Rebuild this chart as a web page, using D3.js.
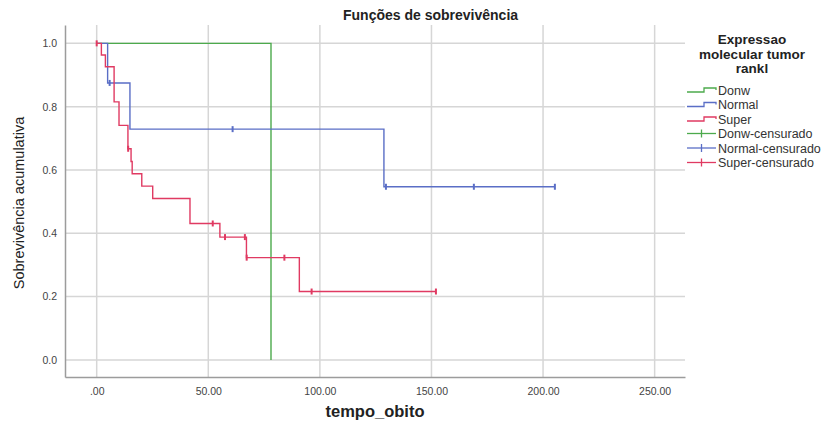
<!DOCTYPE html>
<html>
<head>
<meta charset="utf-8">
<script src="https://cdn.jsdelivr.net/npm/d3@7"></script>
<style>
  body { margin: 0; background: #fff; }
  svg { font-family: "Liberation Sans", Arial, sans-serif; }
</style>
</head>
<body>
<svg id="chart" width="833" height="423"></svg>
<script>
// values
const groups = ['Donw', 'Normal', 'Super'];
const colors = ['#4caa4c', '#5a6ec6', '#e03a62'];

// step points (time, cumulative survival)
const donwTimes = [0, 78.1];
const donwSurv = [1.0, 0.0];
const normalTimes = [0, 4.9, 14.9, 128.7, 205.3];
const normalSurv = [1.0, 0.875, 0.729, 0.547, 0.547];
const superTimes = [0, 2.1, 3.9, 7.8, 10.0, 14.0, 15.4, 15.9, 20.2, 25.1, 41.8, 55.2, 67.1, 90.8, 152.0];
const superSurv = [1.0, 0.963, 0.926, 0.815, 0.741, 0.667, 0.627, 0.588, 0.549, 0.510, 0.431, 0.388, 0.323, 0.216, 0.216];

// censored cases
const normalCensTimes = [5.8, 60.9, 129.6, 169.0, 205.3];
const normalCensSurv = [0.875, 0.729, 0.547, 0.547, 0.547];
const superCensTimes = [0, 14.1, 52.0, 57.5, 66.4, 67.2, 84.1, 96.3, 152.0];
const superCensSurv = [1.0, 0.667, 0.431, 0.388, 0.388, 0.323, 0.323, 0.216, 0.216];

const xTicks = [0, 50, 100, 150, 200, 250];
const yTicks = [0, 0.2, 0.4, 0.6, 0.8, 1.0];

const legendLabels = ['Donw', 'Normal', 'Super', 'Donw-censurado', 'Normal-censurado', 'Super-censurado'];

const svg = d3.select('#chart');
const plot = { left: 65, right: 685, top: 25, bottom: 377 };

const x = d3.scaleLinear().domain([-14.2, 263.6]).range([plot.left, plot.right]);
const y = d3.scaleLinear().domain([-0.054, 1.058]).range([plot.bottom, plot.top]);

// grid
svg.append('g')
    .selectAll('line')
    .data(xTicks)
    .enter().append('line')
    .attr('x1', d => x(d)).attr('x2', d => x(d))
    .attr('y1', plot.top).attr('y2', plot.bottom)
    .style('stroke', '#d6d6d6').style('stroke-width', 1.5);

svg.append('g')
    .selectAll('line')
    .data(yTicks)
    .enter().append('line')
    .attr('x1', plot.left).attr('x2', plot.right)
    .attr('y1', d => y(d)).attr('y2', d => y(d))
    .style('stroke', '#d6d6d6').style('stroke-width', 1.5);

// axes
const fmtX = d => d3.format('.2f')(d).replace(/^0\./, '.');
const xAxis = svg.append('g')
    .attr('transform', `translate(0,${plot.bottom})`)
    .call(d3.axisBottom(x).tickValues(xTicks).tickFormat(fmtX).tickSize(0).tickPadding(11));
const yAxis = svg.append('g')
    .attr('transform', `translate(${plot.left},0)`)
    .call(d3.axisLeft(y).tickValues(yTicks).tickFormat(d3.format('.1f')).tickSize(0).tickPadding(8));

[xAxis, yAxis].forEach(ax => {
    ax.select('.domain').style('stroke', '#9c9c9c').style('stroke-width', 1.5);
    ax.selectAll('text')
        .style('font-size', '10.5px')
        .style('fill', '#444')
        .style('font-family', '"Liberation Sans", Arial, sans-serif');
});

// titles
svg.append('text')
    .attr('x', 343).attr('y', 20)
    .style('font-size', '14px').style('font-weight', 'bold').style('fill', '#222')
    .text('Funções de sobrevivência');

svg.append('text')
    .attr('x', 375).attr('y', 417)
    .attr('text-anchor', 'middle')
    .style('font-size', '16.5px').style('font-weight', 'bold').style('fill', '#222')
    .text('tempo_obito');

svg.append('text')
    .attr('transform', 'translate(24,203) rotate(-90)')
    .attr('text-anchor', 'middle')
    .style('font-size', '14.5px').style('fill', '#222')
    .text('Sobrevivência acumulativa');

// survival curves
const series = [
    { times: donwTimes, surv: donwSurv, cTimes: [], cSurv: [] },
    { times: normalTimes, surv: normalSurv, cTimes: normalCensTimes, cSurv: normalCensSurv },
    { times: superTimes, surv: superSurv, cTimes: superCensTimes, cSurv: superCensSurv }
];

const line = d3.line()
    .x(d => x(d[0]))
    .y(d => y(d[1]))
    .curve(d3.curveStepAfter);

series.forEach((s, i) => {
    const pts = s.times.map((t, k) => [t, s.surv[k]]);
    svg.append('path')
        .attr('d', line(pts))
        .style('fill', 'none')
        .style('stroke', colors[i])
        .style('stroke-width', 1.4);

    const cens = s.cTimes.map((t, k) => [t, s.cSurv[k]]);
    svg.append('g')
        .selectAll('line')
        .data(cens)
        .enter().append('line')
        .attr('x1', d => x(d[0])).attr('x2', d => x(d[0]))
        .attr('y1', d => y(d[1]) - 3).attr('y2', d => y(d[1]) + 3)
        .style('stroke', colors[i])
        .style('stroke-width', 2);
});

// legend
const legend = svg.append('g');
['Expressao', 'molecular tumor', 'rankl'].forEach((t, i) => {
    legend.append('text')
        .attr('x', 752).attr('y', 44 + i * 14.6)
        .attr('text-anchor', 'middle')
        .style('font-size', '13.5px').style('font-weight', 'bold').style('fill', '#222')
        .text(t);
});

const legY = d3.scalePoint().domain(legendLabels).range([90, 162.5]);
legendLabels.forEach((label, i) => {
    const c = colors[i % 3];
    const yy = legY(label);
    if (i < 3) {
        legend.append('path')
            .attr('d', `M687,${yy + 2}H704V${yy - 2}H716V${yy}`)
            .style('fill', 'none').style('stroke', c).style('stroke-width', 1.3);
    } else {
        legend.append('line')
            .attr('x1', 687).attr('x2', 716).attr('y1', yy).attr('y2', yy)
            .style('stroke', c).style('stroke-width', 1.3);
        legend.append('line')
            .attr('x1', 701.5).attr('x2', 701.5).attr('y1', yy - 4).attr('y2', yy + 4)
            .style('stroke', c).style('stroke-width', 1.3);
    }
    legend.append('text')
        .attr('x', 718).attr('y', yy + 4.5)
        .style('font-size', '12.5px').style('fill', '#333')
        .text(label);
});
</script>
</body>
</html>
